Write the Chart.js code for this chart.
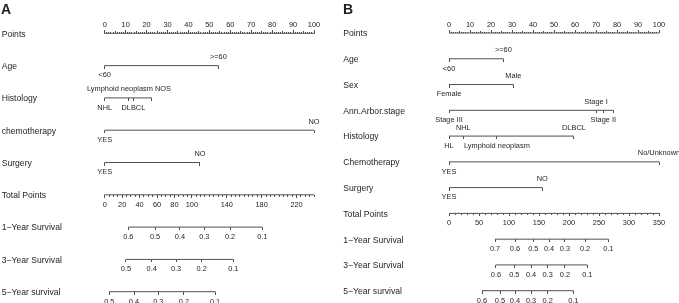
<!DOCTYPE html>
<html>
<head>
<meta charset="utf-8">
<script src="https://cdn.jsdelivr.net/npm/chart.js@4"></script>
<style>
  body { margin: 0; background: #fff; }
  #wrap { position: relative; width: 679px; height: 303px; overflow: hidden; }
  canvas { position: absolute; top: 0; }
  #chartA { left: 0; }
  #chartB { left: 340px; }
</style>
</head>
<body>
<div id="wrap">
  <canvas id="chartA" width="340" height="303"></canvas>
  <canvas id="chartB" width="339" height="303"></canvas>
</div>
<script>
// ----------------------------- Shared scales --------------------------------
const pointsLabels = [0, 10, 20, 30, 40, 50, 60, 70, 80, 90, 100];

// ----------------------------- Panel A data ---------------------------------
const rowsA = ['Points', 'Age', 'Histology', 'chemotherapy', 'Surgery', 'Total Points',
               '1\u2212Year Survival', '3\u2212Year Survival', '5\u2212Year survival'];

const ageAPts = [0, 54.3];                 const ageALevels = ['<60', '>=60'];
const histAPts = [0, 11.6, 13.7, 22.4];    const histALevels = ['NHL', 'Lymphoid neoplasm NOS', 'DLBCL', ''];
const chemoAPts = [0, 100];                const chemoALevels = ['YES', 'NO'];
const surgAPts = [0, 45.5];                const surgALevels = ['YES', 'NO'];

const totalALabels = [0, 20, 40, 60, 80, 100, 140, 180, 220];
const totalAMax = 240;
const totalAStep = 5;

const surv1AProb = ['0.6', '0.5', '0.4', '0.3', '0.2', '0.1'];
const surv1ATotal = [27.1, 57.7, 86.3, 114.2, 143.7, 180.7];
const surv3AProb = ['0.5', '0.4', '0.3', '0.2', '0.1'];
const surv3ATotal = [24.4, 53.9, 81.8, 111.2, 147.5];
const surv5AProb = ['0.5', '0.4', '0.3', '0.2', '0.1'];
const surv5ATotal = [5.3, 33.6, 61.5, 90.9, 126.5];

// ----------------------------- Panel B data ---------------------------------
const rowsB = ['Points', 'Age', 'Sex', 'Ann.Arbor.stage', 'Histology', 'Chemotherapy', 'Surgery',
               'Total Points', '1\u2212Year Survival', '3\u2212Year Survival', '5\u2212Year survival'];

const ageBPts = [0, 25.9];                 const ageBLevels = ['<60', '>=60'];
const sexBPts = [0, 30.6];                 const sexBLevels = ['Female', 'Male'];
const stageBPts = [0, 70, 73.5, 78.2];     const stageBLevels = ['Stage III', 'Stage I', 'Stage II', ''];
const histBPts = [0, 6.8, 22.8, 59.5];     const histBLevels = ['HL', 'NHL', 'Lymphoid neoplasm', 'DLBCL'];
const chemoBPts = [0, 100];                const chemoBLevels = ['YES', 'No/Unknown'];
const surgBPts = [0, 44.4];                const surgBLevels = ['YES', 'NO'];

const totalBLabels = [0, 50, 100, 150, 200, 250, 300, 350];
const totalBMax = 350;
const totalBStep = 10;

const surv1BProb = ['0.7', '0.6', '0.5', '0.4', '0.3', '0.2', '0.1'];
const surv1BTotal = [76.7, 110, 140.5, 166.7, 193.3, 226.7, 265.5];
const surv3BProb = ['0.6', '0.5', '0.4', '0.3', '0.2', '0.1'];
const surv3BTotal = [78.3, 108.9, 136.7, 164.4, 193.3, 230.5];
const surv5BProb = ['0.6', '0.5', '0.4', '0.3', '0.2', '0.1'];
const surv5BTotal = [55, 85, 110, 136.7, 164.5, 207.2];

// ----------------------------- Styling --------------------------------------
const LINE = '#505050';
const TEXT = '#1e1e1e';
const FONT = '"Liberation Sans", Arial, Helvetica, sans-serif';

// small canvas used as a point style: a tick hanging down (or up) from the axis line
function tickMark(len, up) {
  const c = document.createElement('canvas');
  c.width = 1;
  c.height = len * 2;
  const g = c.getContext('2d');
  g.fillStyle = LINE;
  g.fillRect(0, up ? 0 : len, 1, len);
  return c;
}
const tickDown = tickMark(3, false);
const tickDownSmall = tickMark(2, false);
const tickUp = tickMark(3, true);
const tickUpMid = tickMark(2, true);
const tickUpSmall = tickMark(1, true);

function range(step, max) {
  const out = [];
  for (let v = 0; v <= max + 1e-9; v += step) out.push(v);
  return out;
}

// axis line for one row
function segment(row, from, to, axis) {
  return {
    xAxisID: axis,
    data: [{ x: from, y: row }, { x: to, y: row }],
    showLine: true,
    borderColor: LINE,
    borderWidth: 1,
    pointRadius: 0,
    clip: false
  };
}

// tick marks for one row (optionally with text labels)
function ticks(row, xs, axis, style, labels, side) {
  return {
    xAxisID: axis,
    data: xs.map(x => ({ x: x, y: row })),
    pointStyle: style,
    pointRadius: 3,
    pointHoverRadius: 3,
    clip: false,
    tickLabels: labels,
    labelSide: side
  };
}

function variableRow(row, pts, levels) {
  return [segment(row, pts[0], pts[pts.length - 1], 'x'),
          ticks(row, pts, 'x', tickDown, levels, 'alt')];
}

function survivalRow(row, totals, probs) {
  return [segment(row, totals[0], totals[totals.length - 1], 'xt'),
          ticks(row, totals, 'xt', tickDown, probs, 'below')];
}

// ----------------------------- Text plugin ----------------------------------
const nomoText = {
  id: 'nomoText',
  afterDatasetsDraw(chart, args, opts) {
    const ctx = chart.ctx;
    const yScale = chart.scales.y;
    ctx.save();
    ctx.fillStyle = TEXT;

    // panel letter
    ctx.font = 'bold 14px ' + FONT;
    ctx.textAlign = 'left';
    ctx.textBaseline = 'alphabetic';
    ctx.fillText(opts.letter, opts.letterX, 13.5);

    // row names
    ctx.font = '8.6px ' + FONT;
    ctx.textBaseline = 'middle';
    yScale.getLabels().forEach((name, i) => {
      ctx.fillText(name, opts.nameX, yScale.getPixelForValue(i) + 1);
    });

    // level and tick labels, read from the drawn points
    ctx.font = '7.4px ' + FONT;
    ctx.textAlign = 'center';
    chart.data.datasets.forEach((ds, i) => {
      if (!ds.tickLabels) return;
      chart.getDatasetMeta(i).data.forEach((pt, j) => {
        let side = ds.labelSide;
        if (side === 'alt') side = (j % 2) ? 'above' : 'below';
        ctx.fillText(ds.tickLabels[j], pt.x, pt.y + (side === 'above' ? -8.5 : 9.8));
      });
    });
    ctx.restore();
  }
};

// ----------------------------- Chart builder --------------------------------
function makeNomogram(canvasId, rows, datasets, totalMax, padding, letter, letterX, nameX) {
  return new Chart(document.getElementById(canvasId), {
    type: 'scatter',
    data: { datasets: datasets },
    plugins: [nomoText],
    options: {
      responsive: false,
      devicePixelRatio: 1,
      animation: false,
      events: [],
      layout: { padding: padding },
      scales: {
        x:  { type: 'linear', min: 0, max: 100, display: false },        // points
        xt: { type: 'linear', min: 0, max: totalMax, display: false },   // total points
        y:  { type: 'category', labels: rows, offset: false, display: false }
      },
      plugins: {
        legend: { display: false },
        tooltip: { enabled: false },
        nomoText: { letter: letter, letterX: letterX, nameX: nameX }
      }
    }
  });
}

function pointsRow() {
  return [segment('Points', 0, 100, 'x'),
          ticks('Points', range(1, 100), 'x', tickUpSmall, null, null),
          ticks('Points', range(5, 100), 'x', tickUpMid, null, null),
          ticks('Points', pointsLabels, 'x', tickUp, pointsLabels.map(String), 'above')];
}

function totalRow(labels, step, max) {
  return [segment('Total Points', 0, max, 'xt'),
          ticks('Total Points', range(step, max), 'xt', tickDownSmall, null, null),
          ticks('Total Points', labels, 'xt', tickDown, labels.map(String), 'below')];
}

// Panel A
const datasetsA = [].concat(
  pointsRow(),
  variableRow('Age', ageAPts, ageALevels),
  variableRow('Histology', histAPts, histALevels),
  variableRow('chemotherapy', chemoAPts, chemoALevels),
  variableRow('Surgery', surgAPts, surgALevels),
  totalRow(totalALabels, totalAStep, totalAMax),
  survivalRow(rowsA[6], surv1ATotal, surv1AProb),
  survivalRow(rowsA[7], surv3ATotal, surv3AProb),
  survivalRow(rowsA[8], surv5ATotal, surv5AProb)
);
makeNomogram('chartA', rowsA, datasetsA, totalAMax,
  { left: 104.7, right: 26, top: 33.3, bottom: 11.3 }, 'A', 1, 1.7);

// Panel B
const datasetsB = [].concat(
  pointsRow(),
  variableRow('Age', ageBPts, ageBLevels),
  variableRow('Sex', sexBPts, sexBLevels),
  variableRow('Ann.Arbor.stage', stageBPts, stageBLevels),
  variableRow('Histology', histBPts, histBLevels),
  variableRow('Chemotherapy', chemoBPts, chemoBLevels),
  variableRow('Surgery', surgBPts, surgBLevels),
  totalRow(totalBLabels, totalBStep, totalBMax),
  survivalRow(rowsB[8], surv1BTotal, surv1BProb),
  survivalRow(rowsB[9], surv3BTotal, surv3BProb),
  survivalRow(rowsB[10], surv5BTotal, surv5BProb)
);
makeNomogram('chartB', rowsB, datasetsB, totalBMax,
  { left: 109, right: 20, top: 33, bottom: 12.3 }, 'B', 3, 3.3);
</script>
</body>
</html>
